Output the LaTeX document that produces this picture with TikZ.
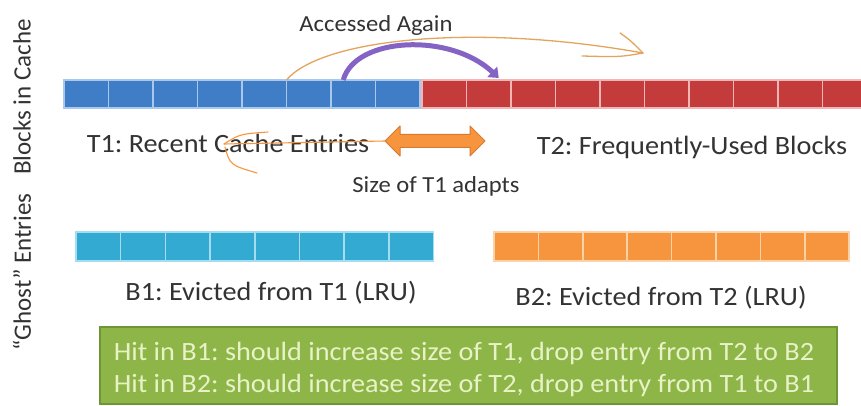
\documentclass[tikz,border=0pt]{standalone}
\usepackage{fontspec}
\setmainfont{Carlito}[FakeStretch=1.07]
\newfontfamily\rotfont{Carlito}
\usetikzlibrary{arrows.meta}
\frenchspacing
\definecolor{blueC}{HTML}{3F7DC7}
\definecolor{blueS}{HTML}{A9C8EC}
\definecolor{redC}{HTML}{C43B3C}
\definecolor{redS}{HTML}{F0B5B5}
\definecolor{cyanC}{HTML}{33AAD2}
\definecolor{cyanS}{HTML}{A5DCEF}
\definecolor{orangeC}{HTML}{F7953F}
\definecolor{orangeS}{HTML}{FCD2A8}
\definecolor{orangeD}{HTML}{D9792C}
\definecolor{greenC}{HTML}{8DB548}
\definecolor{greenD}{HTML}{6E9636}
\definecolor{greenT}{HTML}{E8F2C6}
\definecolor{textC}{HTML}{333333}
\definecolor{purpleC}{HTML}{8463C4}
\definecolor{tanC}{HTML}{E3A55E}
\tikzset{
  blk/.style={rectangle, minimum width=44.5pt, minimum height=28pt, inner sep=0pt, outer sep=0pt, line width=1.5pt},
  lbl/.style={text=textC, font=\fontsize{26.4}{32}\selectfont, anchor=base, inner sep=0pt},
  small/.style={text=textC, font=\fontsize{23}{28}\selectfont, anchor=base, inner sep=0pt},
  side/.style={text=textC, font=\rotfont\fontsize{25}{30}\selectfont, rotate=90, inner sep=0pt},
  hand/.style={draw=tanC, line width=1.3pt, line cap=round},
  greentext/.style={text=greenT, font=\fontsize{26.4}{32}\selectfont, anchor=base, inner sep=0pt}
}
\begin{document}
\begin{tikzpicture}[x=1pt, y=-1pt]
\path[use as bounding box, clip] (0,0) rectangle (861,406);
\fill[white] (0,0) rectangle (861,406);

% side labels
\node[side] (sideA) at (22,97) {Blocks in Cache};
\node[side] (sideB) at (22,272) {“Ghost” Entries};

% T1 blocks
\foreach \i in {0,...,7}
  \node[blk, fill=blueC, draw=blueS] (t1-\i) at ({64+44.5*\i+22.25},94) {};
% T2 blocks
\foreach \i in {0,...,9}
  \node[blk, fill=redC, draw=redS] (t2-\i) at ({422+44.5*\i+22.25},94) {};
% B1 blocks
\foreach \i in {0,...,7}
  \node[blk, minimum width=44.7pt, minimum height=29pt, fill=cyanC, draw=cyanS] (b1-\i) at ({76+44.7*\i+22.35},246.5) {};
% B2 blocks
\foreach \i in {0,...,7}
  \node[blk, minimum width=44.4pt, minimum height=29pt, fill=orangeC, draw=orangeS] (b2-\i) at ({494+44.4*\i+22.2},246.5) {};

% labels
\node[small] (acc) at (376,32) {Accessed Again};
\node[lbl] (t1lab) at (228,153) {T1: Recent Cache Entries};
\node[lbl] (t2lab) at (692,155) {T2: Frequently-Used Blocks};
\node[small] (adapt) at (436,193) {Size of T1 adapts};
\node[lbl] (b1lab) at (271,300) {B1: Evicted from T1 (LRU)};
\node[lbl] (b2lab) at (661,305) {B2: Evicted from T2 (LRU)};

% green box
\node[rectangle, fill=greenC, draw=greenD, line width=1.2pt, minimum width=737pt, minimum height=77pt, inner sep=0pt] (hint) at (468.5,365.5) {};
\node[greentext] (h1) at (464,360) {Hit in B1: should increase size of T1, drop entry from T2 to B2};
\node[greentext] (h2) at (464,392) {Hit in B2: should increase size of T2, drop entry from T1 to B1};

% hand-drawn orange arrow over the top
\coordinate (topTip) at (643,53);
\draw[hand] (t1-5.north west) .. controls (320,40) and (470,22) .. (topTip);
\draw[hand] (topTip) .. controls (630,40) .. (620,33);
\draw[hand] (topTip) .. controls (620,57) .. (582,56);

% purple arrow
\draw[purpleC, line width=5pt, -{Triangle[length=9pt,width=14pt]}]
  ([xshift=-10pt]t1-6.north) .. controls (355,37) and (450,32) .. ([xshift=10pt,yshift=2pt]t2-1.north);

% double arrow
\coordinate (dL) at (385,141);
\coordinate (dR) at (485,141);
\filldraw[fill=orangeC, draw=orangeD, line width=1pt, line join=round]
  (dL) -- ++(15,-15) -- ++(0,8.5) -- ++(70,0) -- ++(0,-8.5) -- (dR)
  -- ++(-15,15) -- ++(0,-8.5) -- ++(-70,0) -- ++(0,8.5) -- cycle;

% thin orange arrow pointing left through the T1 label
\coordinate (leftTip) at (224,144);
\draw[hand, draw=orangeC, line width=1.1pt] (dL) -- (leftTip);
\draw[hand, draw=orangeC, line width=1.1pt] (leftTip) .. controls (240,134) .. (268,132);
\draw[hand, draw=orangeC, line width=1.1pt] (225,147) .. controls (230,165) .. (257,173);
\end{tikzpicture}
\end{document}
